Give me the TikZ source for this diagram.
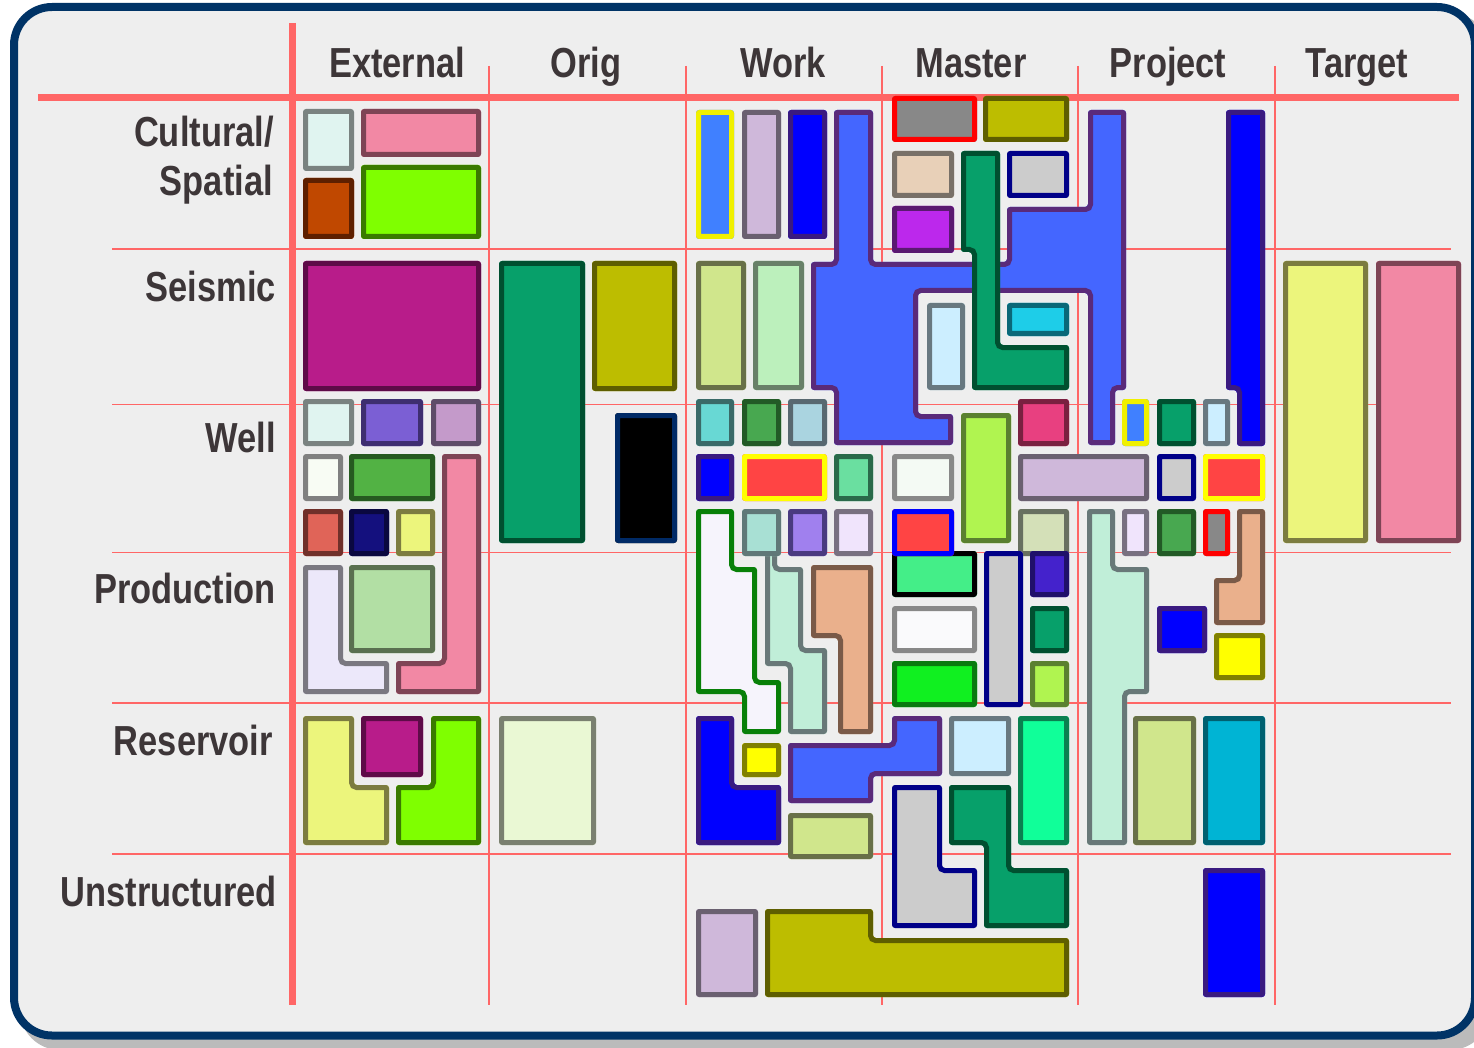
\documentclass[tikz,border=0pt]{standalone}
\usepackage{fontspec}
\newfontfamily\lblfont{Liberation Sans}[FakeStretch=0.82]
\definecolor{bgc}{HTML}{EEEEEE}
\definecolor{framec}{HTML}{003366}
\definecolor{shadowc}{HTML}{BBBBBB}
\definecolor{gridc}{HTML}{FF6666}
\definecolor{txtc}{HTML}{3D3638}
\tikzset{
  blkfill/.style={fill=blkf, rounded corners=3pt},
  blkline/.style={draw=blks, line width=10pt, rounded corners=3pt},
  thingrid/.style={draw=gridc, line width=1.5pt},
  thickgrid/.style={draw=gridc, line width=7pt},
  lbl/.style={font=\lblfont\bfseries\fontsize{42}{50}\selectfont, text=txtc, inner sep=0pt},
}
\newcommand\blk[3]{%
  \definecolor{blkf}{HTML}{#1}\definecolor{blks}{HTML}{#2}%
  \fill[blkfill] #3;%
  \begin{scope}\clip[rounded corners=3pt] #3;\draw[blkline] #3;\end{scope}}
\begin{document}
\begin{tikzpicture}[x=1pt,y=-1pt]
\useasboundingbox (0,0) rectangle (1474,1048);
\fill[white] (0,0) rectangle (1474,1048);
% shadow and frame
\fill[shadowc, rounded corners=40pt] (20,13) rectangle (1490,1050);
\draw[line width=8pt, draw=framec, fill=bgc, rounded corners=38pt] (14,7) rectangle (1475,1035.5);
% grid
\foreach \gx in {489,686,882,1078,1275} \draw[thingrid] (\gx,66) -- (\gx,1005);
\foreach \gy in {249,404.5,552.5,703,854} \draw[thingrid] (112,\gy) -- (1451,\gy);
\draw[thickgrid] (38,97.5) -- (1459,97.5);
\draw[thickgrid] (292.5,23) -- (292.5,1005);
% headers
\node[lbl, anchor=base] (hExt) at (397,78) {External};
\node[lbl, anchor=base] (hOrig) at (586,78) {Orig};
\node[lbl, anchor=base] (hWork) at (783,78) {Work};
\node[lbl, anchor=base] (hMaster) at (971,78) {Master};
\node[lbl, anchor=base] (hProject) at (1168,78) {Project};
\node[lbl, anchor=base] (hTarget) at (1357,78) {Target};
% row labels
\node[lbl, anchor=base east] (rCult) at (274,147) {Cultural/};
\node[lbl, anchor=base east] (rSpat) at (273,196) {Spatial};
\node[lbl, anchor=base east] (rSeis) at (276,302) {Seismic};
\node[lbl, anchor=base east] (rWell) at (276,452) {Well};
\node[lbl, anchor=base east] (rProd) at (276,603) {Production};
\node[lbl, anchor=base east] (rRes) at (273,755) {Reservoir};
\node[lbl, anchor=base east] (rUns) at (277,906) {Unstructured};
% External
\blk{E0F4F0}{7A8280}{(303,109) rectangle (354,171)}
\blk{F288A4}{7E4455}{(361,109) rectangle (481,157)}
\blk{C04800}{5E2000}{(303,178) rectangle (354,239)}
\blk{7FFF00}{3A7A00}{(361,165) rectangle (481,239)}
\blk{B81C8A}{5E0B48}{(303,261) rectangle (481,391)}
\blk{E0F4F0}{7A8280}{(303,399) rectangle (354,446)}
\blk{7B5FD4}{3E2E70}{(361,399) rectangle (423,446)}
\blk{C49ACA}{5E4C68}{(431,399) rectangle (481,446)}
\blk{F8FCF4}{808080}{(303,454) rectangle (343,501)}
\blk{52B244}{265A20}{(349,454) rectangle (435,501)}
\blk{F288A4}{7E4455}{(442,454) -- (481,454) -- (481,694) -- (396,694) -- (396,661) -- (442,661) -- cycle}
\blk{E06458}{70302A}{(303,509) rectangle (343,556)}
\blk{14107E}{0A0840}{(349,509) rectangle (389,556)}
\blk{ECF57C}{7C7C40}{(396,509) rectangle (435,556)}
\blk{ECE8FA}{7A7880}{(303,565) -- (343,565) -- (343,661) -- (389,661) -- (389,694) -- (303,694) -- cycle}
\blk{B2DFA4}{5A7050}{(349,565) rectangle (435,653)}
\blk{ECF57C}{7C7C40}{(303,716) -- (354,716) -- (354,785) -- (389,785) -- (389,845) -- (303,845) -- cycle}
\blk{B81C8A}{5E0B48}{(361,716) rectangle (423,777)}
\blk{7FFF00}{3A7A00}{(431,716) -- (481,716) -- (481,845) -- (396,845) -- (396,785) -- (431,785) -- cycle}
% Orig
\blk{07A06A}{005030}{(499,261) rectangle (585,543)}
\blk{BDBD00}{5E5E00}{(592,261) rectangle (677,391)}
\blk{000000}{002A66}{(615,413) rectangle (677,543)}
\blk{EAF8D4}{7A8070}{(499,716) rectangle (596,845)}
% Work
\blk{4080FF}{F0F000}{(696,110) rectangle (734,239)}
\blk{CFB8DA}{6A6070}{(742,110) rectangle (781,239)}
\blk{0000FF}{3A1A80}{(788,110) rectangle (827,239)}
\blk{D0E68C}{687048}{(696,261) rectangle (746,390)}
\blk{BCF0BC}{688068}{(753,261) rectangle (804,390)}
\blk{4466FF}{5A2A7A}{(834,110) -- (873,110) -- (873,262) -- (1007,262) -- (1007,207) -- (1088,207) -- (1088,110) -- (1126,110) -- (1126,390) -- (1115,390) -- (1115,445) -- (1088,445) -- (1088,293) -- (918,293) -- (918,414) -- (953,414) -- (953,445) -- (834,445) -- (834,390) -- (811,390) -- (811,262) -- (834,262) -- cycle}
\blk{68D8D4}{3A6A68}{(696,399) rectangle (734,446)}
\blk{48A850}{225A26}{(742,399) rectangle (781,446)}
\blk{AAD4E0}{586870}{(788,399) rectangle (827,446)}
\blk{0000FF}{3A1A80}{(696,454) rectangle (734,501)}
\blk{FF4444}{FFFF00}{(742,454) rectangle (827,501)}
\blk{6ADFA0}{2A6A4A}{(834,454) rectangle (873,501)}
\blk{F6F4FC}{088008}{(696,509) -- (734,509) -- (734,567) -- (757,567) -- (757,680) -- (781,680) -- (781,734) -- (742,734) -- (742,694) -- (696,694) -- cycle}
\blk{C0EED8}{687878}{(765,530) -- (777,530) -- (777,567) -- (803,567) -- (803,648) -- (827,648) -- (827,734) -- (788,734) -- (788,666) -- (765,666) -- cycle}
\blk{A8E0D4}{607878}{(742,509) rectangle (781,556)}
\blk{A080EE}{4A3A80}{(788,509) rectangle (827,556)}
\blk{F0E4FC}{787080}{(834,509) rectangle (873,556)}
\blk{EAB08C}{7A5A48}{(811,565) -- (873,565) -- (873,734) -- (838,734) -- (838,638) -- (811,638) -- cycle}
\blk{0000FF}{3A1A80}{(696,716) -- (734,716) -- (734,785) -- (781,785) -- (781,845) -- (696,845) -- cycle}
\blk{FFFF00}{808000}{(742,743) rectangle (781,777)}
\blk{4466FF}{5A2A7A}{(892,716) -- (942,716) -- (942,776) -- (873,776) -- (873,803) -- (788,803) -- (788,743) -- (892,743) -- cycle}
\blk{D0E68C}{687048}{(788,813) rectangle (873,859)}
\blk{CFB8DA}{6A6070}{(696,909) rectangle (758,997)}
\blk{BDBD00}{5E5E00}{(765,909) -- (873,909) -- (873,938) -- (1069,938) -- (1069,997) -- (765,997) -- cycle}
% Master
\blk{888888}{FF0000}{(892,96) rectangle (977,142)}
\blk{BDBD00}{5E5E00}{(983,96) rectangle (1069,142)}
\blk{E8D0B8}{787068}{(892,151) rectangle (954,198)}
\blk{CCCCCC}{000088}{(1007,151) rectangle (1069,198)}
\blk{BC28EC}{5A1A70}{(892,206) rectangle (954,253)}
\blk{07A06A}{005030}{(961,151) -- (1000,151) -- (1000,345) -- (1069,345) -- (1069,390) -- (972,390) -- (972,252) -- (961,252) -- cycle}
\blk{CCEEFF}{687880}{(927,303) rectangle (965,390)}
\blk{1ECDE8}{0A6878}{(1007,303) rectangle (1069,336)}
\blk{E84080}{7A2040}{(1018,399) rectangle (1069,446)}
\blk{B0F450}{5A8030}{(961,413) rectangle (1011,543)}
\blk{F4FAF4}{888888}{(892,454) rectangle (954,501)}
\blk{CFB8DA}{6A6070}{(1018,454) rectangle (1149,501)}
\blk{44EE88}{000000}{(892,551) rectangle (977,597)}
\blk{FF4444}{0000FF}{(892,509) rectangle (954,556)}
\blk{D4E0B8}{687060}{(1018,509) rectangle (1069,556)}
\blk{CCCCCC}{000088}{(984,551) rectangle (1023,707)}
\blk{4422CC}{20106A}{(1030,551) rectangle (1069,597)}
\blk{FAFAFC}{888888}{(892,606) rectangle (977,653)}
\blk{07A06A}{005030}{(1030,606) rectangle (1069,653)}
\blk{10F020}{0A7A10}{(892,661) rectangle (977,707)}
\blk{B0F450}{5A8030}{(1030,661) rectangle (1069,707)}
\blk{CCEEFF}{687880}{(949,716) rectangle (1011,776)}
\blk{10FF99}{0A8050}{(1018,716) rectangle (1069,845)}
\blk{CCCCCC}{000088}{(892,785) -- (942,785) -- (942,868) -- (977,868) -- (977,928) -- (892,928) -- cycle}
\blk{07A06A}{005030}{(949,785) -- (1011,785) -- (1011,868) -- (1069,868) -- (1069,928) -- (984,928) -- (984,845) -- (949,845) -- cycle}
% Project
\blk{4080FF}{F0F000}{(1122,399) rectangle (1149,446)}
\blk{07A06A}{005030}{(1157,399) rectangle (1196,446)}
\blk{CCEEFF}{687880}{(1203,399) rectangle (1230,446)}
\blk{0000FF}{3A1A80}{(1226,110) -- (1265,110) -- (1265,446) -- (1237,446) -- (1237,390) -- (1226,390) -- cycle}
\blk{CCCCCC}{000088}{(1157,454) rectangle (1196,501)}
\blk{FF4444}{FFFF00}{(1203,454) rectangle (1265,501)}
\blk{C0EED8}{687878}{(1087,509) -- (1115,509) -- (1115,567) -- (1149,567) -- (1149,694) -- (1127,694) -- (1127,845) -- (1087,845) -- cycle}
\blk{F0E4FC}{787080}{(1122,509) rectangle (1149,556)}
\blk{48A850}{225A26}{(1157,509) rectangle (1196,556)}
\blk{888888}{FF0000}{(1203,509) rectangle (1230,556)}
\blk{EAB08C}{7A5A48}{(1237,509) -- (1265,509) -- (1265,625) -- (1214,625) -- (1214,578) -- (1237,578) -- cycle}
\blk{0000FF}{3A1A80}{(1157,606) rectangle (1207,653)}
\blk{FFFF00}{808000}{(1214,633) rectangle (1265,680)}
\blk{D0E68C}{687048}{(1133,716) rectangle (1196,845)}
\blk{00B4D4}{006070}{(1203,716) rectangle (1265,845)}
\blk{0000FF}{3A1A80}{(1203,868) rectangle (1265,997)}
% Target
\blk{ECF57C}{7C7C40}{(1283,261) rectangle (1368,543)}
\blk{F288A4}{7E4455}{(1376,261) rectangle (1461,543)}
\end{tikzpicture}
\end{document}
